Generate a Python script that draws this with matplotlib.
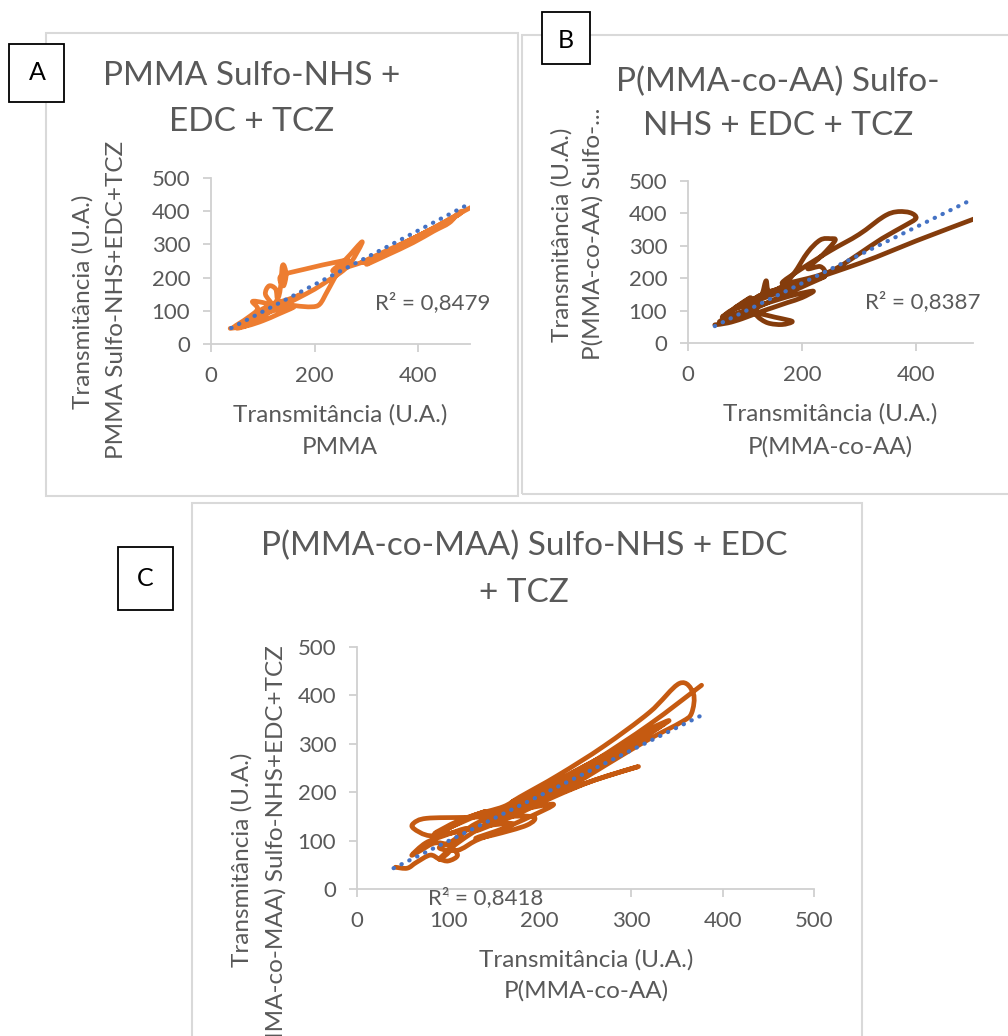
import numpy as np
import matplotlib
matplotlib.use("Agg")
import matplotlib.pyplot as plt
from matplotlib.path import Path
from matplotlib.patches import PathPatch, Rectangle

plt.rcParams['font.family'] = ['Lato', 'DejaVu Sans']

W, H = 1008, 1036
GRAY = '#595959'
AXIS = '#d0d0d0'
TREND = '#4472C4'

# Dados lidos: transmitância (U.A.) de cada amostra vs. referência
pmma_x = [37, 70, 100, 130, 160, 120, 90, 60, 45, 70, 90, 80, 100, 118, 105, 112, 125, 130, 150,
          175, 140, 110, 80, 55, 80, 105, 130, 100, 70, 50, 75, 100, 130, 138, 145, 140, 135,
          180, 246, 265, 245, 225, 210, 194, 165, 150, 170, 200, 230, 250, 270, 292, 260, 235,
          270, 320, 370, 420, 460, 485, 478, 460, 430, 390, 340, 300, 350, 400, 450, 480, 440,
          390, 340, 290, 330, 380, 430, 470, 505]
pmma_y = [47, 55, 70, 90, 112, 100, 80, 60, 52, 78, 105, 128, 125, 118, 150, 175, 165, 130, 135,
          150, 120, 98, 75, 58, 85, 110, 120, 82, 56, 48, 70, 95, 140, 236, 210, 175, 205, 225,
          248, 250, 215, 160, 120, 112, 115, 122, 140, 165, 195, 215, 245, 308, 255, 220, 235,
          262, 300, 340, 372, 398, 395, 365, 340, 305, 268, 240, 285, 325, 366, 392, 356, 318,
          282, 245, 270, 310, 350, 385, 414]

aa_x = [47, 70, 95, 125, 150, 175, 200, 220, 190, 160, 130, 100, 75, 55, 80, 110, 140, 165, 190,
        215, 240, 215, 180, 150, 120, 95, 75, 60, 85, 110, 100, 80, 105, 130, 155, 180, 150, 120,
        95, 85, 110, 125, 120, 122, 140, 165, 183, 165, 140, 118, 130, 137, 142, 165, 186, 210,
        232, 250, 258, 235, 210, 232, 238, 200, 165, 200, 250, 300, 343, 366, 390, 400, 380,
        340, 300, 265, 230, 200, 170, 210, 245, 275, 330, 400, 505]
aa_y = [56, 62, 75, 95, 110, 125, 140, 160, 150, 135, 118, 100, 85, 65, 75, 100, 125, 145, 165,
        185, 205, 190, 170, 150, 130, 115, 100, 80, 110, 140, 130, 105, 125, 150, 165, 178, 160,
        140, 120, 110, 120, 145, 100, 82, 62, 57, 66, 75, 85, 100, 150, 192, 160, 175, 215, 280,
        318, 322, 316, 270, 230, 236, 215, 195, 185, 230, 285, 335, 390, 405, 402, 385, 362,
        322, 275, 235, 205, 180, 165, 190, 212, 230, 265, 315, 385]

maa_x = [42, 55, 65, 80, 90, 100, 110, 100, 85, 70, 60, 75, 95, 120, 105, 90, 110, 130, 150,
         170, 140, 110, 80, 62, 62, 76, 120, 160, 193, 186, 150, 130, 160, 190, 215, 180, 150,
         130, 105, 85, 110, 140, 120, 95, 125, 160, 178, 220, 270, 320, 353, 368, 366, 355, 320,
         280, 240, 200, 170, 140, 170, 210, 260, 300, 341, 320, 280, 240, 200, 170, 200, 240,
         290, 335, 300, 250, 200, 160, 130, 170, 215, 260, 308, 260, 210, 170, 130, 110, 100, 90,
         110, 150, 200, 260, 320, 377]
maa_y = [45, 43, 55, 70, 62, 58, 70, 90, 95, 80, 70, 95, 110, 125, 100, 85, 80, 100, 115, 135,
         130, 118, 110, 125, 136, 146, 148, 150, 149, 132, 112, 105, 125, 150, 175, 165, 160,
         150, 130, 115, 140, 160, 145, 120, 150, 170, 190, 235, 295, 365, 425, 404, 363, 345,
         310, 265, 220, 185, 160, 140, 175, 210, 260, 300, 347, 330, 285, 245, 205, 180, 195,
         230, 285, 340, 305, 255, 200, 150, 120, 150, 190, 225, 253, 225, 190, 165, 135, 105,
         75, 62, 95, 145, 200, 265, 340, 421]

# linhas de tendência (inclinação, intercepto, x inicial, x final) e R²
trend_pmma = (0.814, 16.3, 39, 500)
trend_aa = (0.866, 11.3, 47, 500)
trend_maa = (0.937, 5.5, 40, 375)
r2_pmma, r2_aa, r2_maa = '0,8479', '0,8387', '0,8418'


def px(x, y):
    return x / W, 1 - y / H


def smooth_path(xs, ys):
    # curva suavizada (tipo Excel) passando pelos pontos
    pts = np.column_stack([xs, ys]).astype(float)
    verts = [pts[0]]
    codes = [Path.MOVETO]
    n = len(pts)
    for i in range(n - 1):
        p0 = pts[i - 1] if i > 0 else pts[i]
        p1, p2 = pts[i], pts[i + 1]
        p3 = pts[i + 2] if i + 2 < n else pts[i + 1]
        verts += [p1 + (p2 - p0) / 6, p2 - (p3 - p1) / 6, p2]
        codes += [Path.CURVE4] * 3
    return Path(verts, codes)


def painel(rect, xs, ys, cor, trend, r2, r2_pos, xticks, tick_fs):
    ax = fig.add_axes(rect)
    ax.set_xlim(0, 500)
    ax.set_ylim(0, 500)
    ax.patch.set_alpha(0)
    for s in ['top', 'right']:
        ax.spines[s].set_visible(False)
    for s in ['left', 'bottom']:
        ax.spines[s].set_color(AXIS)
        ax.spines[s].set_linewidth(1.3)
    ax.set_xticks(xticks)
    ax.set_yticks(range(0, 501, 100))
    ax.tick_params(colors=AXIS, labelcolor=GRAY, labelsize=tick_fs, length=6, width=1.3)
    ax.tick_params(axis='y', pad=9)
    ax.tick_params(axis='x', pad=10)
    ax.add_patch(PathPatch(smooth_path(xs, ys), fill=False, edgecolor=cor, lw=3.4,
                           capstyle='round', joinstyle='round', zorder=2))
    a, b, x0, x1 = trend
    tx = np.array([x0, x1])
    ax.plot(tx, a * tx + b, color=TREND, lw=3, linestyle=(0, (0.1, 2.0)),
            dash_capstyle='round', zorder=3)
    ax.text(r2_pos[0], r2_pos[1], 'R² = ' + r2, color=GRAY, fontsize=tick_fs,
            va='center', ha='left', zorder=4)
    return ax


def moldura(x0, y0, x1, y1, cor='#d9d9d9', lw=1.5, face='none'):
    (fx0, fy1), (fx1, fy0) = px(x0, y0), px(x1, y1)
    fig.add_artist(Rectangle((fx0, fy0), fx1 - fx0, fy1 - fy0, transform=fig.transFigure,
                             fill=(face != 'none'), facecolor=face, edgecolor=cor, lw=lw))


def texto(x, y, s, size, rot=0, cor=GRAY):
    fig.text(*px(x, y), s, fontsize=size, color=cor, rotation=rot, ha='center', va='center')


fig = plt.figure(figsize=(W / 100, H / 100), dpi=100)

moldura(46, 33, 518, 496)
moldura(522, 35, 1020, 494)
moldura(192, 503, 862, 1050)

# A - PMMA
painel([211 / W, 1 - 344 / H, 259 / W, 166 / H], pmma_x, pmma_y, '#ED7D31',
       trend_pmma, r2_pmma, (317, 126), [0, 200, 400], 16)
texto(252, 76, 'PMMA Sulfo-NHS +', 24)
texto(252, 122, 'EDC + TCZ', 24)
texto(340, 415, 'Transmitância (U.A.)', 17.5)
texto(340, 448, 'PMMA', 17.5)
texto(83, 302, 'Transmitância (U.A.)', 17.5, 90)
texto(117, 300, 'PMMA Sulfo-NHS+EDC+TCZ', 17.5, 90)

# B - P(MMA-co-AA)
painel([688 / W, 1 - 343 / H, 285 / W, 162 / H], aa_x, aa_y, '#843C0C',
       trend_aa, r2_aa, (310, 127), [0, 200, 400], 16)
texto(778, 82, 'P(MMA-co-AA) Sulfo-', 24)
texto(778, 126, 'NHS + EDC + TCZ', 24)
texto(830, 414, 'Transmitância (U.A.)', 17.5)
texto(830, 447, 'P(MMA-co-AA)', 17.5)
texto(562, 235, 'Transmitância (U.A.)', 17.5, 90)
texto(593, 234, 'P(MMA-co-AA) Sulfo-...', 17.5, 90)

# C - P(MMA-co-MAA)
painel([357 / W, 1 - 889 / H, 457 / W, 242 / H], maa_x, maa_y, '#C55A11',
       trend_maa, r2_maa, (78, -17), [0, 100, 200, 300, 400, 500], 16)
texto(524, 546, 'P(MMA-co-MAA) Sulfo-NHS + EDC', 24)
texto(524, 593, '+ TCZ', 24)
texto(586, 960, 'Transmitância (U.A.)', 17.5)
texto(586, 991, 'P(MMA-co-AA)', 17.5)
texto(242, 860, 'Transmitância (U.A.)', 17.5, 90)
texto(276, 860, 'P(MMA-co-MAA) Sulfo-NHS+EDC+TCZ', 17.5, 90)

# caixas com as letras dos painéis
moldura(9, 44, 64, 102, cor='black', lw=1.3, face='white')
texto(37, 73, 'A', 18, cor='black')
moldura(542, 12, 590, 64, cor='black', lw=1.3, face='white')
texto(566, 40, 'B', 18, cor='black')
moldura(118, 547, 173, 610, cor='black', lw=1.3, face='white')
texto(145, 578, 'C', 18, cor='black')

fig.savefig('out.png', dpi=100)
